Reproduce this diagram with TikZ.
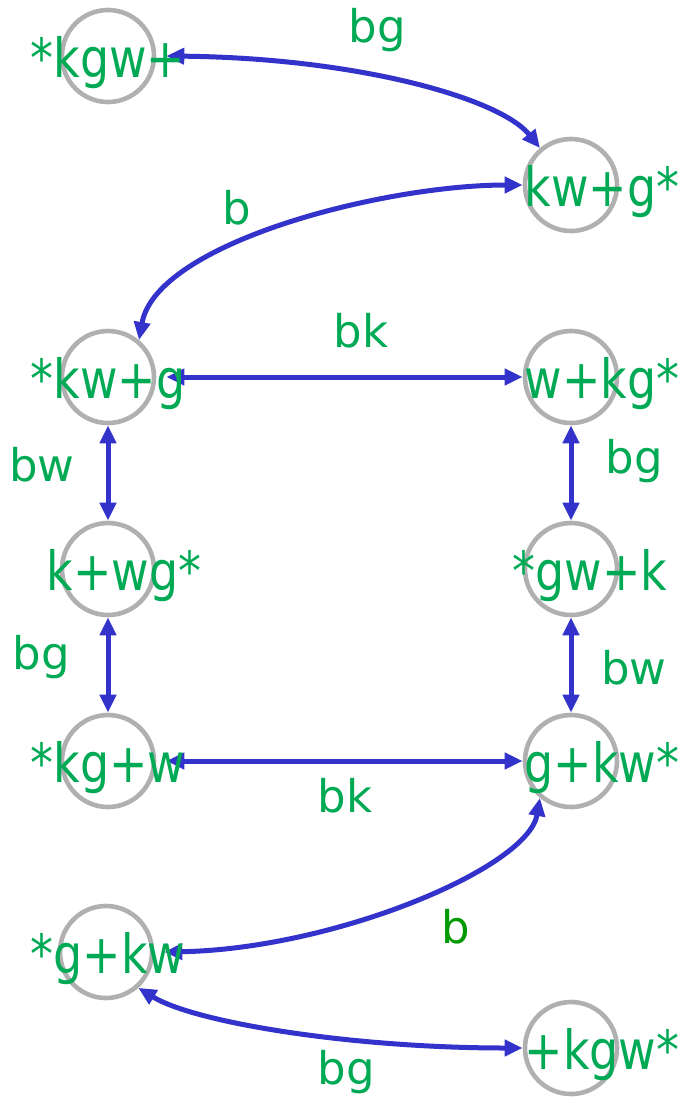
\documentclass[tikz,border=0pt]{standalone}
\usepackage{fontspec}
\setmainfont{DejaVu Sans}
\newfontfamily\statefont[FakeStretch=0.85]{DejaVu Sans}
\usetikzlibrary{arrows.meta}

\definecolor{stategray}{HTML}{B0B0B0}
\definecolor{stategreen}{HTML}{00AA55}
\definecolor{movegreen}{HTML}{009900}
\definecolor{moveblue}{HTML}{3333CC}

\begin{document}
\begin{tikzpicture}[
  x=0.5pt,
  y=-0.5pt,
  line join=round,
  state/.style={draw=stategray,line width=2.3pt,circle,minimum size=46pt,inner sep=0pt},
  statelabel/.style={text=stategreen,font=\statefont\fontsize{27}{27}\selectfont,inner sep=0pt,anchor=base},
  move/.style={draw=moveblue,line width=2.5pt,>={Triangle[length=9pt,width=8pt]},<->},
  movelabel/.style={text=stategreen,font=\fontsize{22.5}{22.5}\selectfont,inner sep=0pt}
]
  % Frame of the original artwork.
  \useasboundingbox (0,0) rectangle (684,1100);

  % State circles, left column and right column.
  \node[state] (stateA) at (108,56) {};
  \node[state] (stateB) at (571,185) {};
  \node[state] (stateC) at (108,377) {};
  \node[state] (stateD) at (571,377) {};
  \node[state] (stateE) at (108,569) {};
  \node[state] (stateF) at (571,569) {};
  \node[state] (stateG) at (108,761) {};
  \node[state] (stateH) at (571,761) {};
  \node[state] (stateI) at (106,952) {};
  \node[state] (stateJ) at (571,1048) {};

  % Moves between states, all two-way.
  \draw[move] ([xshift=5pt]stateA.east) .. controls +(190,2) and +(-40,-50) .. (stateB.130);
  \draw[move] (stateB.west) .. controls +(-140,0) and +(17,-97) .. (stateC.50);
  \draw[move] ([xshift=5pt]stateC.east) -- (stateD.west);
  \draw[move] (stateC.south) -- (stateE.north);
  \draw[move] (stateD.south) -- (stateF.north);
  \draw[move] (stateE.south) -- (stateG.north);
  \draw[move] (stateF.south) -- (stateH.north);
  \draw[move] ([xshift=5pt]stateG.east) -- (stateH.west);
  \draw[move] (stateH.230) .. controls +(-12,70) and +(170,-3) .. ([xshift=5pt]stateI.east);
  \draw[move] (stateI.-48) .. controls +(57,35) and +(-170,0) .. (stateJ.west);

  % Move labels.
  \node[movelabel] (moveAB) at (377,30) {bg};
  \node[movelabel] (moveBC) at (237,208) {b};
  \node[movelabel] (moveCD) at (361,331) {bk};
  \node[movelabel] (moveCE) at (42,465) {bw};
  \node[movelabel] (moveDF) at (634,461) {bg};
  \node[movelabel] (moveEG) at (41,657) {bg};
  \node[movelabel] (moveFH) at (634,668) {bw};
  \node[movelabel] (moveGH) at (345,796) {bk};
  \node[movelabel,text=movegreen] (moveHI) at (456,927) {b};
  \node[movelabel] (moveIJ) at (346,1072) {bg};

  % State texts, drawn over circles and moves.
  \node[statelabel] (textA) at (108,77) {*kgw+};
  \node[statelabel] (textB) at (602,206) {kw+g*};
  \node[statelabel] (textC) at (108,398) {*kw+g};
  \node[statelabel] (textD) at (602,398) {w+kg*};
  \node[statelabel] (textE) at (124,590) {k+wg*};
  \node[statelabel] (textF) at (590,590) {*gw+k};
  \node[statelabel] (textG) at (108,782) {*kg+w};
  \node[statelabel] (textH) at (602,782) {g+kw*};
  \node[statelabel] (textI) at (108,973) {*g+kw};
  \node[statelabel] (textJ) at (602,1069) {+kgw*};
\end{tikzpicture}
\end{document}
